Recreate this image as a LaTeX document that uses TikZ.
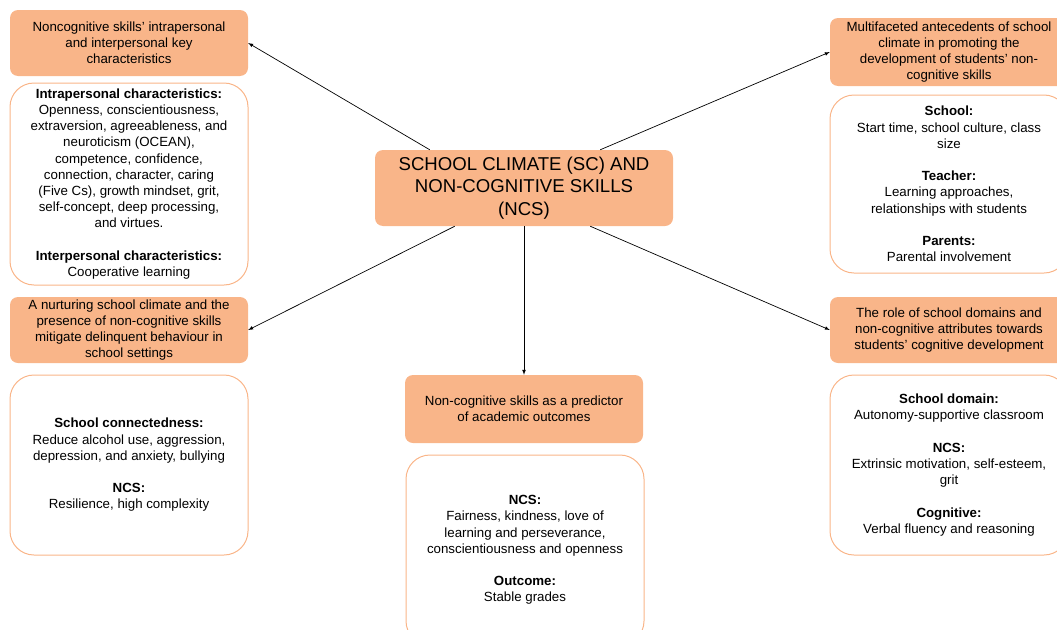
\documentclass[tikz,border=0pt]{standalone}
\usepackage{fontspec}
\setmainfont{Liberation Sans}
\usetikzlibrary{arrows,positioning}
\definecolor{sand}{RGB}{249,181,137}
\tikzset{
  head/.style={fill=sand, rounded corners=8pt, minimum width=238pt, inner sep=0pt,
    align=center, font=\fontsize{13.3}{16.2}\selectfont},
  info/.style={draw=sand, line width=1pt, rounded corners=24pt, minimum width=238pt,
    inner sep=0pt, align=center, font=\fontsize{13.3}{16.2}\selectfont},
  link/.style={-latex, line width=0.7pt},
}

\begin{document}
\begin{tikzpicture}[x=1pt,y=-1pt]
    \useasboundingbox (0,0) rectangle (1057,629);

    %%% Centre %%%
    \node[head, minimum width=298pt, minimum height=76pt, font=\fontsize{18.6}{22.5}\selectfont] (SC) at (524,188)
        {SCHOOL CLIMATE (SC) AND\\NON-COGNITIVE SKILLS\\(NCS)};

    %%% Top left %%%
    \node[head, minimum height=66pt] (A) at (129,43)
        {Noncognitive skills' intrapersonal\\and interpersonal key\\characteristics};
    \node[info, minimum height=202pt] (Ab) at (129,184)
        {\textbf{Intrapersonal characteristics:}\\Openness, conscientiousness,\\extraversion, agreeableness, and\\
         neuroticism (OCEAN),\\competence, confidence,\\connection, character, caring\\(Five Cs), growth mindset, grit,\\
         self-concept, deep processing,\\and virtues.\\[16.2pt]\textbf{Interpersonal characteristics:}\\Cooperative learning};

    %%% Middle left %%%
    \node[head, minimum height=66pt] (B) at (129,330)
        {A nurturing school climate and the\\presence of non-cognitive skills\\mitigate delinquent behaviour in\\school settings};
    \node[info, minimum height=180pt] (Bb) at (129,465)
        {\textbf{School connectedness:}\\Reduce alcohol use, aggression,\\depression, and anxiety, bullying\\[16.2pt]
         \textbf{NCS:}\\Resilience, high complexity};

    %%% Bottom centre %%%
    \node[head, minimum height=68pt] (C) at (524,409)
        {Non-cognitive skills as a predictor\\of academic outcomes};
    \node[info, minimum height=190pt] (Cb) at (525,550)
        {\textbf{NCS:}\\Fairness, kindness, love of\\learning and perseverance,\\conscientiousness and openness\\[16.2pt]
         \textbf{Outcome:}\\Stable grades};

    %%% Top right %%%
    \node[head, minimum height=68pt] (D) at (949,52)
        {Multifaceted antecedents of school\\climate in promoting the\\development of students' non-\\cognitive skills};
    \node[info, minimum height=178pt] (Db) at (949,184)
        {\textbf{School:}\\Start time, school culture, class\\size\\[16.2pt]\textbf{Teacher:}\\Learning approaches,\\
         relationships with students\\[16.2pt]\textbf{Parents:}\\Parental involvement};

    %%% Middle right %%%
    \node[head, minimum height=66pt] (E) at (949,330)
        {The role of school domains and\\non-cognitive attributes towards\\students' cognitive development};
    \node[info, minimum height=180pt] (Eb) at (949,465)
        {\textbf{School domain:}\\Autonomy-supportive classroom\\[16.2pt]\textbf{NCS:}\\Extrinsic motivation, self-esteem,\\
         grit\\[16.2pt]\textbf{Cognitive:}\\Verbal fluency and reasoning};

    %%% Arrows %%%
    \draw[link] ([xshift=55pt]SC.north west) -- (A.east);
    \draw[link] ([xshift=-73pt]SC.north east) -- (D.west);
    \draw[link] ([xshift=80pt]SC.south west) -- (B.east);
    \draw[link] ([xshift=-83pt]SC.south east) -- (E.west);
    \draw[link] (SC.south) -- (C.north);

\end{tikzpicture}
\end{document}
